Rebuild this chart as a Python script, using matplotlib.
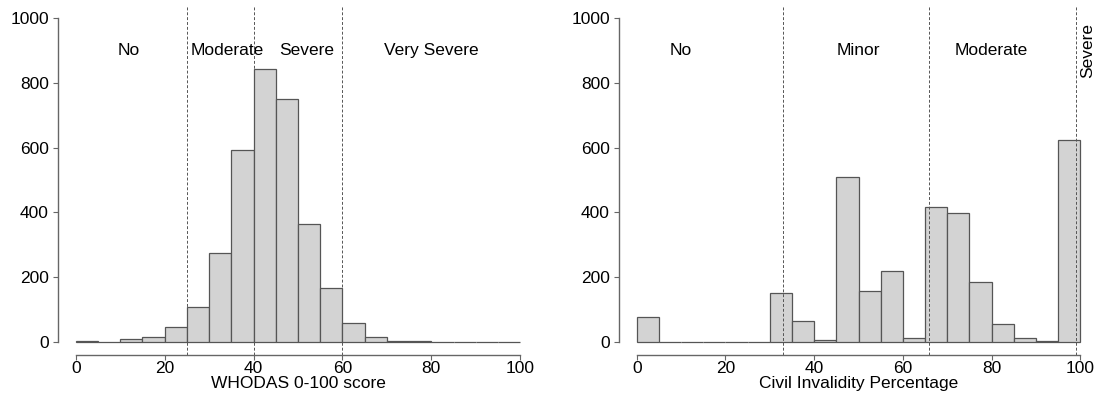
import numpy as np
import matplotlib
matplotlib.use("Agg")
import matplotlib.pyplot as plt

plt.rcParams['font.family'] = ['Liberation Sans', 'DejaVu Sans']
plt.rcParams['font.size'] = 12.5

# histogram bins (width 5, 0-100)
bin_edges = np.arange(0, 105, 5)

# WHODAS counts per bin
whodas_counts = [3, 0, 8, 17, 45, 107, 274, 592, 843, 750, 363, 168, 59, 15, 4, 2, 0, 0, 0, 0]
# civil invalidity counts per bin
civil_counts = [76, 0, 0, 0, 0, 1, 152, 66, 5, 510, 159, 220, 12, 418, 399, 185, 55, 12, 3, 622]

whodas_cuts = [25, 40, 60]
whodas_labels = ["No", "Moderate", "Severe", "Very Severe"]
whodas_label_x = [12, 34, 52, 80]

civil_cuts = [33, 66, 99]
civil_labels = ["No", "Minor", "Moderate"]
civil_label_x = [10, 50, 80]

fig = plt.figure(figsize=(10.95, 3.96), dpi=100)
W, H = 1095, 396
ax1 = fig.add_axes([58 / W, (H - 355) / H, 480 / W, 350 / H])
ax2 = fig.add_axes([619 / W, (H - 355) / H, 479 / W, 350 / H])


def style(ax):
    ax.set_xlim(-4, 104)
    ax.set_ylim(-40, 1040)
    for s in ['top', 'right']:
        ax.spines[s].set_visible(False)
    ax.spines['left'].set_bounds(0, 1000)
    ax.spines['bottom'].set_bounds(0, 100)
    for s in ['left', 'bottom']:
        ax.spines[s].set_color('#666666')
        ax.spines[s].set_linewidth(1)
    ax.set_xticks([0, 20, 40, 60, 80, 100])
    ax.set_yticks([0, 200, 400, 600, 800, 1000])
    ax.tick_params(direction='out', length=3.6, color='#666666', labelsize=12.5)
    ax.tick_params(axis='x', pad=1)
    ax.tick_params(axis='y', pad=3)


mids = bin_edges[:-1]
ax1.bar(mids, whodas_counts, width=5, align='edge', color='#d3d3d3', edgecolor='#555555', linewidth=0.9)
for c in whodas_cuts:
    ax1.axvline(c, color='#555555', linestyle=(0, (3, 2)), linewidth=0.7)
for x, t in zip(whodas_label_x, whodas_labels):
    ax1.text(x, 900, t, ha='center', va='center')
style(ax1)
ax1.set_xlabel("WHODAS 0-100 score", labelpad=0)

ax2.bar(mids, civil_counts, width=5, align='edge', color='#d3d3d3', edgecolor='#555555', linewidth=0.9)
for c in civil_cuts:
    ax2.axvline(c, color='#555555', linestyle=(0, (3, 2)), linewidth=0.7)
for x, t in zip(civil_label_x, civil_labels):
    ax2.text(x, 900, t, ha='center', va='center')
ax2.text(101.6, 900, "Severe", ha='center', va='center', rotation=90, clip_on=False)
style(ax2)
ax2.set_xlabel("Civil Invalidity Percentage", labelpad=0)

fig.savefig("out.png", dpi=100)
